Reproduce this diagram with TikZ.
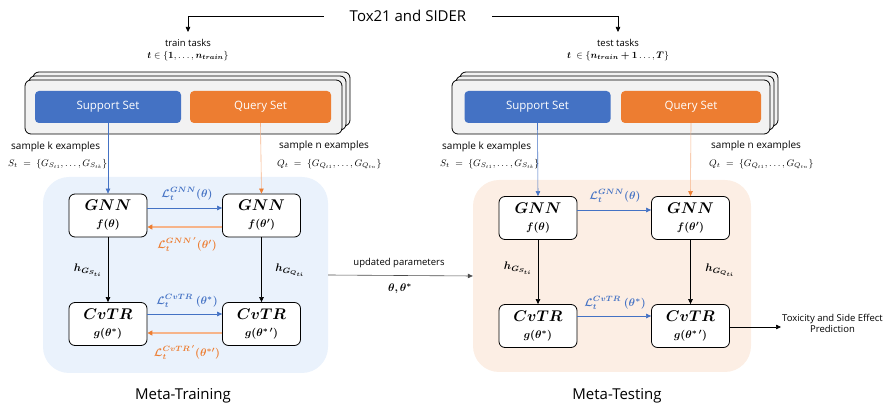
\RequirePackage{fix-cm}
\documentclass[tikz,border=0pt]{standalone}
\usepackage{fontspec}
\setmainfont{Open Sans}
\usepackage{amsmath,bm}
\usetikzlibrary{arrows.meta,calc}
\definecolor{cblue}{HTML}{4472C4}
\definecolor{corange}{HTML}{ED7D31}
\definecolor{corline}{HTML}{F6B48A}
\definecolor{bgblue}{HTML}{EAF2FC}
\definecolor{bgpeach}{HTML}{FCEEE4}
\definecolor{stackgray}{HTML}{F2F2F2}
\tikzset{
  arr/.style={-{Triangle[length=5pt,width=4.5pt]}, line width=0.6pt},
  oarr/.style={-{Triangle[length=5pt,width=5pt,color=corange]}, line width=1.5pt, draw=corline},
  stackbox/.style={draw=black, line width=0.8pt, fill=stackgray, rounded corners=6pt},
  setbox/.style={rounded corners=4pt, text=white, font=\fontsize{11.5}{13}\selectfont, minimum height=32pt, inner sep=0pt},
  modbox/.style={draw=black, line width=0.8pt, fill=white, rounded corners=6pt, minimum width=78pt, minimum height=43pt, inner sep=0pt, align=center, font=\fontsize{15.5}{17}\selectfont},
  smalltxt/.style={font=\fontsize{9.5}{11}\selectfont, inner sep=1pt},
  samptxt/.style={font=\fontsize{10}{12}\selectfont, inner sep=1pt},
  ltxt/.style={font=\fontsize{11}{13}\selectfont, inner sep=0.5pt},
  bigtxt/.style={font=\fontsize{15}{18}\selectfont, inner sep=1pt}
}
\newcommand{\modtext}[2]{$\bm{#1}$\\{\fontsize{11}{17}\selectfont$\bm{#2}$}}
\begin{document}
\begin{tikzpicture}[x=1pt,y=-1pt]
\useasboundingbox (0,0) rectangle (887,403);
% title
\node[bigtxt] (title) at (408,16) {Tox21 and SIDER};
\node[smalltxt, align=center] (train) at (188,50) {train tasks\\[1pt]$\bm{t}\in\{\bm{1},\ldots,\bm{n_{train}}\}$};
\node[smalltxt, align=center] (test) at (618,50) {test tasks\\[1pt]$\bm{t}\;\in\{\bm{n_{train}+1}\ldots,\bm{T}\}$};
\draw[arr, shorten <=25pt, shorten >=6pt] (title.west) -| (train.north);
\draw[arr, shorten <=25pt, shorten >=6pt] (title.east) -| (test.north);

% stacked boxes left
\node[stackbox, minimum width=317pt, minimum height=54pt] (sbl3) at (191.5,99) {};
\node[stackbox, minimum width=317pt, minimum height=54pt] (sbl2) at (187.5,103) {};
\node[stackbox, minimum width=317pt, minimum height=54pt] (sbl1) at (183.5,107) {};
\node[setbox, fill=cblue, minimum width=146pt] (supL) at (108,107) {Support Set};
\node[setbox, fill=corange, minimum width=141pt] (qryL) at (260.5,107) {Query Set};
% stacked boxes right
\node[stackbox, minimum width=318pt, minimum height=54pt] (sbr3) at (619,99) {};
\node[stackbox, minimum width=318pt, minimum height=54pt] (sbr2) at (615,103) {};
\node[stackbox, minimum width=318pt, minimum height=54pt] (sbr1) at (611,107) {};
\node[setbox, fill=cblue, minimum width=146pt] (supR) at (537.5,107) {Support Set};
\node[setbox, fill=corange, minimum width=140pt] (qryR) at (691,107) {Query Set};

% sample labels
\node[samptxt, anchor=west] (skL) at (10,147) {sample k examples};
\node[smalltxt, anchor=west] (stL) at (7,164) {$S_t\;=\;\{G_{S_{t1}},\ldots,G_{S_{tk}}\}$};
\node[samptxt, anchor=west] (snL) at (278,146) {sample n examples};
\node[smalltxt, anchor=west] (qtL) at (276,164) {$Q_t\;=\;\{G_{Q_{t1}},\ldots,G_{Q_{tn}}\}$};
\node[samptxt, anchor=west] (skR) at (441,147) {sample k examples};
\node[smalltxt, anchor=west] (stR) at (439,164) {$S_t\;=\;\{G_{S_{t1}},\ldots,G_{S_{tk}}\}$};
\node[samptxt, anchor=west] (snR) at (710,146) {sample n examples};
\node[smalltxt, anchor=west] (qtR) at (708,164) {$Q_t\;=\;\{G_{Q_{t1}},\ldots,G_{Q_{tn}}\}$};

% backgrounds
\node[fill=bgblue, rounded corners=26pt, minimum width=285pt, minimum height=196pt, inner sep=0pt] (bgL) at (185.5,275) {};
\node[fill=bgpeach, rounded corners=26pt, minimum width=278pt, minimum height=192pt, inner sep=0pt] (bgR) at (612,276) {};

% left modules
\node[modbox] (g1L) at (108,215.5) {\modtext{GNN}{f(\theta)}};
\node[modbox] (g2L) at (261.5,215.5) {\modtext{GNN}{f(\theta')}};
\node[modbox] (c1L) at (108,324) {\modtext{CvTR}{g(\theta^{*})}};
\node[modbox] (c2L) at (261.5,324) {\modtext{CvTR}{g(\theta^{*\,\prime})}};
% right modules
\node[modbox] (g1R) at (538,218) {\modtext{GNN}{f(\theta)}};
\node[modbox] (g2R) at (690.5,218) {\modtext{GNN}{f(\theta')}};
\node[modbox] (c1R) at (538,326) {\modtext{CvTR}{g(\theta^{*})}};
\node[modbox] (c2R) at (690.5,326) {\modtext{CvTR}{g(\theta^{*\,\prime})}};

% set to module arrows
\draw[arr, cblue] (supL.south) -- (g1L.north);
\draw[arr, draw=corline, -{Triangle[length=5pt,width=4.5pt,color=corange]}] (qryL.south) -- (g2L.north);
\draw[arr, cblue] (supR.south) -- (g1R.north);
\draw[arr, draw=corline, -{Triangle[length=5pt,width=4.5pt,color=corange]}] (qryR.south) -- (g2R.north);

% left horizontal arrows
\draw[arr, cblue] ([yshift=7.5pt]g1L.east) -- ([yshift=7.5pt]g1L.east -| g2L.west);
\draw[oarr] ([yshift=-11.5pt]g2L.west) -- ([yshift=-11.5pt]g2L.west -| g1L.east);
\draw[arr, cblue] ([yshift=10pt]c1L.east) -- ([yshift=10pt]c1L.east -| c2L.west);
\draw[oarr] ([yshift=-9pt]c2L.west) -- ([yshift=-9pt]c2L.west -| c1L.east);
\node[ltxt, text=cblue] (lgL) at (187,194) {$\bm{\mathcal{L}_t^{GNN}(\theta)}$};
\node[ltxt, text=corange] (lgoL) at (187,244.5) {$\bm{\mathcal{L}_t^{GNN\,'}(\theta')}$};
\node[ltxt, text=cblue] (lcL) at (187,301) {$\bm{\mathcal{L}_t^{CvTR}\;(\theta^{*})}$};
\node[ltxt, text=corange] (lcoL) at (187,352.5) {$\bm{\mathcal{L}_t^{CvTR\,'}(\theta^{*\prime})}$};
% right horizontal arrows
\draw[arr, cblue] ([yshift=8pt]g1R.east) -- ([yshift=8pt]g1R.east -| g2R.west);
\draw[arr, cblue] ([yshift=10pt]c1R.east) -- ([yshift=10pt]c1R.east -| c2R.west);
\node[ltxt, text=cblue] (lgR) at (615,196) {$\bm{\mathcal{L}_t^{GNN}(\theta)}$};
\node[ltxt, text=cblue] (lcR) at (615,303) {$\bm{\mathcal{L}_t^{CvTR}\;(\theta^{*})}$};

% vertical arrows
\draw[arr] (g1L.south) -- (c1L.north);
\draw[arr] (g2L.south) -- (c2L.north);
\draw[arr] (g1R.south) -- (c1R.north);
\draw[arr] (g2R.south) -- (c2R.north);
\node[ltxt] (hL1) at (88,270) {$\bm{h_{G_{S_{ti}}}}$};
\node[ltxt] (hL2) at (290,270) {$\bm{h_{G_{Q_{ti}}}}$};
\node[ltxt] (hR1) at (518,268) {$\bm{h_{G_{S_{ti}}}}$};
\node[ltxt] (hR2) at (720,270) {$\bm{h_{G_{Q_{ti}}}}$};

% updated parameters
\draw[arr, black!70] (bgL.east) -- (bgR.west);
\node[smalltxt] (upd) at (399,263) {updated parameters};
\node[ltxt] (thetas) at (400,289) {$\bm{\theta,\theta^{*}}$};

% output
\node[smalltxt, align=center, anchor=west] (out) at (781,323) {Toxicity and Side Effect\\Prediction};
\draw[arr] ([yshift=-1pt]c2R.east) -- ([yshift=-1pt]c2R.east -| out.west);

% bottom titles
\node[bigtxt] (mtr) at (183,396) {Meta-Training};
\node[bigtxt] (mte) at (617,396) {Meta-Testing};
\end{tikzpicture}
\end{document}
